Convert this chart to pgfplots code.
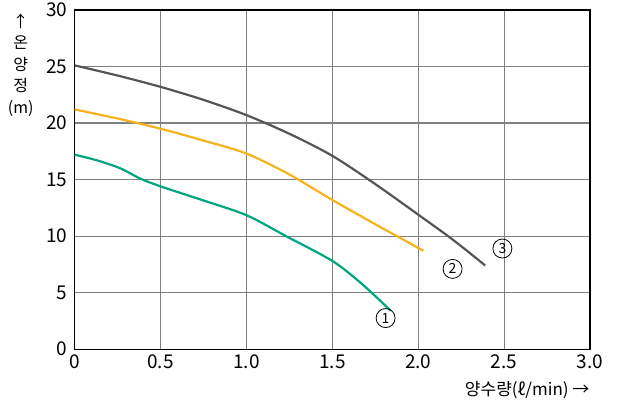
\documentclass[border=0pt]{standalone}
\usepackage{fontspec}
\setmainfont{Noto Sans CJK KR}
\usepackage{pgfplots}
\pgfplotsset{compat=1.18}
\definecolor{cgreen}{RGB}{0,166,126}
\definecolor{corange}{RGB}{247,178,28}
\definecolor{cgray}{RGB}{85,85,85}
\definecolor{gridc}{RGB}{128,128,128}
\begin{document}
\begin{tikzpicture}
\begin{axis}[
  name=ax,
  scale only axis,
  width=515bp, height=339bp,
  xmin=0, xmax=3, ymin=0, ymax=30,
  xtick={0,0.5,1,1.5,2,2.5,3},
  xticklabels={0,0.5,1.0,1.5,2.0,2.5,3.0},
  ytick={0,5,10,15,20,25,30},
  major tick length=0pt,
  grid=major,
  major grid style={draw=gridc, line width=1.2bp},
  axis line style={black, line width=1.3bp},
  /pgf/number format/assume math mode=true,
  tick label style={font=\fontsize{19bp}{22bp}\selectfont},
  xticklabel style={yshift=-2bp},
  yticklabel style={xshift=-4bp},
  clip=false,
]
\addplot[cgray, line width=2.2bp, smooth, tension=0.5] coordinates {
 (0,25.1) (0.25,24.2) (0.5,23.2) (0.75,22.05) (1.0,20.7) (1.25,19.05) (1.5,17.1) (1.75,14.6) (2.0,11.9) (2.2,9.7) (2.39,7.4)
};
\addplot[corange, line width=2.2bp, smooth, tension=0.5] coordinates {
 (0,21.2) (0.25,20.4) (0.5,19.5) (0.75,18.45) (1.0,17.3) (1.25,15.45) (1.5,13.2) (1.75,11.05) (1.9,9.8) (2.03,8.7)
};
\addplot[cgreen, line width=2.2bp, smooth, tension=0.5] coordinates {
 (0,17.2) (0.13,16.7) (0.265,16.0) (0.38,15.1) (0.5,14.4) (0.75,13.15) (1.0,11.85) (1.23,10.0) (1.5,7.8) (1.67,5.8) (1.84,3.4)
};
\node[circle, draw, line width=0.8bp, inner sep=1.5bp, minimum size=19bp, font=\fontsize{14bp}{16bp}\selectfont] at (axis cs:1.81,2.75) {1};
\node[circle, draw, line width=0.8bp, inner sep=1.5bp, minimum size=19bp, font=\fontsize{14bp}{16bp}\selectfont] at (axis cs:2.20,7.1) {2};
\node[circle, draw, line width=0.8bp, inner sep=1.5bp, minimum size=19bp, font=\fontsize{14bp}{16bp}\selectfont] at (axis cs:2.49,8.9) {3};
\coordinate (A) at (rel axis cs:0,0);
\coordinate (B) at (rel axis cs:1,1);
\end{axis}
\node[anchor=north, align=center, font=\fontsize{16bp}{21.5bp}\selectfont] at ([xshift=-54bp,yshift=0bp]B -| A) {↑\\온\\양\\정\\(m)};
\node[anchor=north east, font=\fontsize{17bp}{20bp}\selectfont] at ([xshift=3bp,yshift=-29bp]A -| B) {양수량(ℓ/min) →};
\pgfresetboundingbox
\path (A) ++(-74.7bp,-56bp);
\path (B) ++(32bp,10bp);
\end{tikzpicture}
\end{document}
